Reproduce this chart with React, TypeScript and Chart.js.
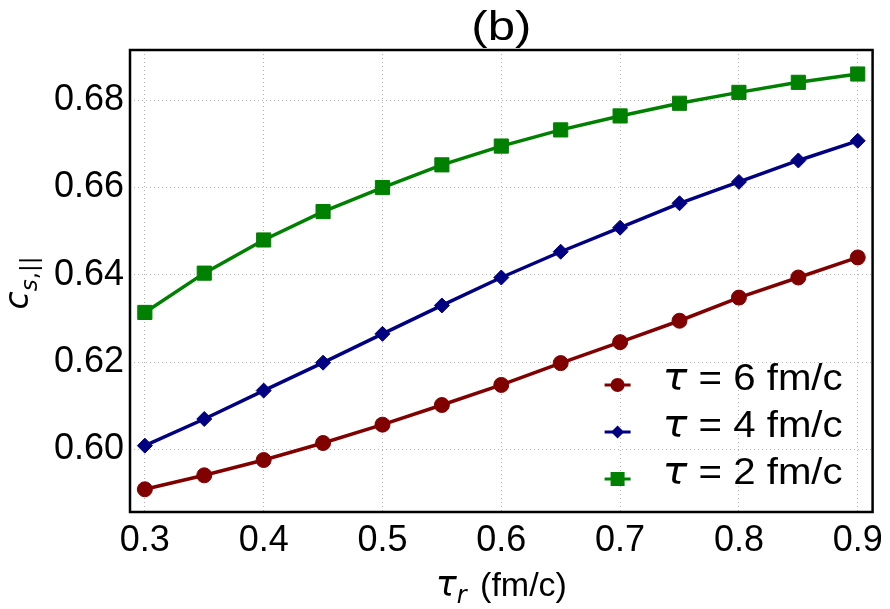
import React, { useEffect, useRef } from "react";
import { Chart, registerables } from "chart.js";

Chart.register(...registerables);

// ---- data ----
const tauR = [0.3, 0.35, 0.4, 0.45, 0.5, 0.55, 0.6, 0.65, 0.7, 0.75, 0.8, 0.85, 0.9];
const tau6 = [0.5909, 0.5941, 0.5976, 0.6015, 0.6057, 0.6102, 0.6148, 0.6198, 0.6246, 0.6295, 0.6348, 0.6394, 0.644];
const tau4 = [0.6009, 0.607, 0.6135, 0.6199, 0.6265, 0.633, 0.6394, 0.6453, 0.6508, 0.6564, 0.6613, 0.6662, 0.6707];
const tau2 = [0.6314, 0.6404, 0.648, 0.6545, 0.66, 0.6652, 0.6695, 0.6732, 0.6764, 0.6793, 0.6818, 0.6841, 0.686];
const seriesTau = ["6", "4", "2"];
const xTicks = [0.3, 0.4, 0.5, 0.6, 0.7, 0.8, 0.9];
const yTicks = [0.6, 0.62, 0.64, 0.66, 0.68];
const titleText = "(b)";
const xLabelMain = "τ";
const xLabelSub = "r";
const xLabelRest = " (fm/c)";
const yLabelMain = "c";
const yLabelSub = "s";
const yLabelSubRest = ",||";

const COLORS = ["#800000", "#000080", "#008000"];
const STYLES = ["circle", "rectRot", "rect"];
const RADII = [7.5, 7.5, 10];

const SANS = '"Liberation Sans", Arial, sans-serif';
const MATH = '"DejaVu Sans", sans-serif';

function drawMarker(ctx: CanvasRenderingContext2D, style: string, x: number, y: number, r: number) {
  ctx.beginPath();
  if (style === "circle") {
    ctx.arc(x, y, r, 0, Math.PI * 2);
  } else if (style === "rectRot") {
    ctx.moveTo(x, y - r);
    ctx.lineTo(x + r, y);
    ctx.lineTo(x, y + r);
    ctx.lineTo(x - r, y);
    ctx.closePath();
  } else {
    ctx.rect(x - r / 2, y - r / 2, r, r);
  }
  ctx.fill();
}

const decorPlugin = {
  id: "decor",
  afterDraw(chart: any) {
    const ctx: CanvasRenderingContext2D = chart.ctx;
    const a = chart.chartArea;
    const cx = (a.left + a.right) / 2;
    ctx.save();
    // frame
    ctx.strokeStyle = "#000";
    ctx.lineWidth = 2.5;
    ctx.strokeRect(a.left, a.top, a.right - a.left, a.bottom - a.top);

    ctx.fillStyle = "#000";
    ctx.textAlign = "left";
    ctx.textBaseline = "alphabetic";

    // title
    ctx.font = `40px ${SANS}`;
    {
      const w = ctx.measureText(titleText).width;
      const tw = 60;
      ctx.save();
      ctx.translate(cx - tw / 2, a.top - 10);
      ctx.scale(tw / w, 1);
      ctx.fillText(titleText, 0, 0);
      ctx.restore();
    }

    // x label
    {
      const f1 = `italic 35px ${MATH}`;
      const f2 = `italic 24px ${MATH}`;
      const f3 = `34px ${SANS}`;
      ctx.font = f1; const w1 = ctx.measureText(xLabelMain).width;
      ctx.font = f2; const w2 = ctx.measureText(xLabelSub).width;
      ctx.font = f3; const w3 = ctx.measureText(xLabelRest).width;
      const gap = 4;
      const total = w1 + w2 + w3 + gap;
      let x = cx - total / 2;
      const base = a.bottom + 84;
      ctx.font = f1; ctx.fillText(xLabelMain, x, base); x += w1;
      ctx.font = f2; ctx.fillText(xLabelSub, x, base + 7); x += w2 + gap;
      ctx.font = f3; ctx.fillText(xLabelRest, x, base);
    }

    // y label (rotated)
    {
      const f1 = `italic 33px ${MATH}`;
      const f2 = `italic 23px ${MATH}`;
      const f3 = `23px ${MATH}`;
      ctx.font = f1; const w1 = ctx.measureText(yLabelMain).width;
      ctx.font = f2; const w2 = ctx.measureText(yLabelSub).width;
      ctx.font = f3; const w3 = ctx.measureText(yLabelSubRest).width;
      const total = w1 + w2 + w3;
      ctx.save();
      ctx.translate(28, (a.top + a.bottom) / 2 + 2);
      ctx.rotate(-Math.PI / 2);
      let x = -total / 2;
      ctx.font = f1; ctx.fillText(yLabelMain, x, 0); x += w1;
      ctx.font = f2; ctx.fillText(yLabelSub, x, 9); x += w2;
      ctx.font = f3; ctx.fillText(yLabelSubRest, x, 9);
      ctx.restore();
    }

    // legend
    {
      const mx = a.right - 255;
      const tx = a.right - 210;
      const rows = [a.bottom - 127, a.bottom - 80, a.bottom - 33];
      const legendSizes = [7, 6.5, 14];
      seriesTau.forEach((t, i) => {
        const y = rows[i];
        ctx.strokeStyle = COLORS[i];
        ctx.fillStyle = COLORS[i];
        ctx.lineWidth = 3;
        ctx.beginPath();
        ctx.moveTo(mx - 13, y);
        ctx.lineTo(mx + 13, y);
        ctx.stroke();
        drawMarker(ctx, STYLES[i], mx, y, legendSizes[i]);

        ctx.fillStyle = "#000";
        const fa = `italic 37px ${MATH}`;
        const fb = `36px ${SANS}`;
        const rest = ` = ${t} fm/c`;
        ctx.font = fa; const wa = ctx.measureText("τ").width;
        ctx.font = fb; const wb = ctx.measureText(rest).width;
        const s = 180 / (wa + wb);
        ctx.save();
        ctx.translate(tx, y + 5);
        ctx.scale(s, 1);
        ctx.font = fa; ctx.fillText("τ", 0, 0);
        ctx.font = fb; ctx.fillText(rest, wa, 0);
        ctx.restore();
      });
    }
    ctx.restore();
  },
};

export default function App() {
  const ref = useRef<HTMLCanvasElement>(null);
  useEffect(() => {
    if (!ref.current) return;
    const series = [tau6, tau4, tau2];
    const datasets = series.map((vals, i) => ({
      label: `τ = ${seriesTau[i]} fm/c`,
      data: tauR.map((x, j) => ({ x, y: vals[j] })),
      borderColor: COLORS[i],
      backgroundColor: COLORS[i],
      borderWidth: 3.5,
      pointStyle: STYLES[i] as any,
      pointRadius: RADII[i],
      pointBorderWidth: 1,
      pointBorderColor: COLORS[i],
      pointBackgroundColor: COLORS[i],
      tension: 0,
      fill: false,
    }));
    const chart = new Chart(ref.current, {
      type: "line",
      data: { datasets },
      options: {
        responsive: false,
        animation: false,
        layout: { padding: { top: 50, right: 12, left: 0, bottom: 0 } },
        plugins: { legend: { display: false }, tooltip: { enabled: false } },
        scales: {
          x: {
            type: "linear",
            min: 0.2875,
            max: 0.9125,
            afterBuildTicks: (s: any) => { s.ticks = xTicks.map((v) => ({ value: v })); },
            afterFit: (s: any) => { s.height = 97; },
            grid: { color: "#b4b4b4", lineWidth: 1, drawTicks: false },
            border: { display: false, dash: [1, 3] },
            ticks: {
              padding: 7,
              color: "#000",
              font: { family: SANS, size: 36 },
              callback: (v: any) => Number(v).toFixed(1),
              maxRotation: 0,
            },
          },
          y: {
            type: "linear",
            min: 0.5857,
            max: 0.6915,
            afterBuildTicks: (s: any) => { s.ticks = yTicks.map((v) => ({ value: v })); },
            afterFit: (s: any) => { s.width = 130; },
            grid: { color: "#b4b4b4", lineWidth: 1, drawTicks: false },
            border: { display: false, dash: [1, 3] },
            ticks: {
              padding: 6,
              color: "#000",
              font: { family: SANS, size: 36 },
              callback: (v: any) => Number(v).toFixed(2),
            },
          },
        },
      },
      plugins: [decorPlugin],
    });
    return () => chart.destroy();
  }, []);
  return (
    <div style={{ position: "fixed", left: 0, top: 0, width: 890, height: 609, background: "#fff" }}>
      <canvas ref={ref} width={890} height={609} style={{ display: "block" }} />
    </div>
  );
}
